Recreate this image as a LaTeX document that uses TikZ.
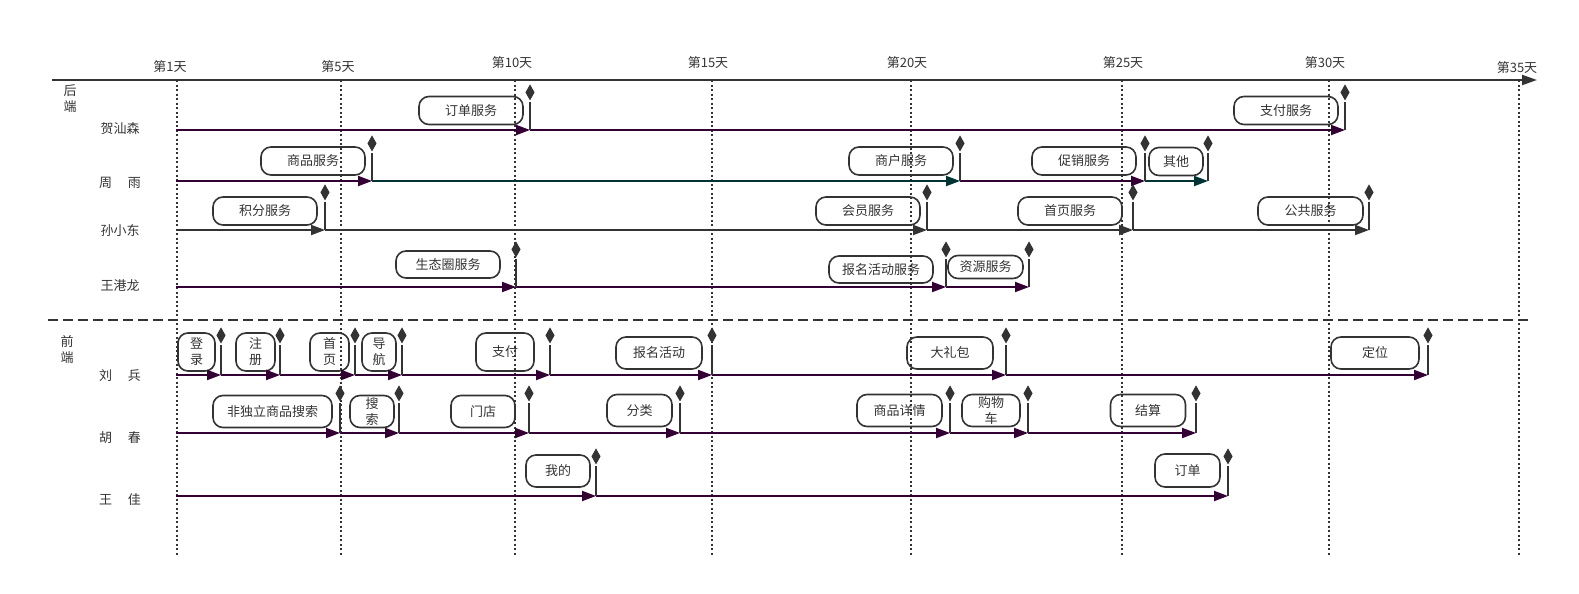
\documentclass[tikz,border=0pt]{standalone}
\usepackage{fontspec}
\setmainfont{Noto Sans CJK SC}
\usetikzlibrary{shapes,arrows.meta}
\definecolor{ink}{HTML}{333333}
\definecolor{plum}{HTML}{330033}
\definecolor{pine}{HTML}{003333}

\begin{document}
\begin{tikzpicture}[x=1pt,y=-1pt,>={Triangle[length=14pt,width=10pt]},line width=2pt,
  font=\fontsize{13pt}{16pt}\selectfont,text=ink]
\tikzstyle{task}=[draw=ink,line width=1.6pt,rounded corners=10pt,inner sep=0pt,align=center,minimum height=28pt]
\tikzstyle{gem}=[diamond,fill=ink,inner sep=0pt,minimum width=10pt,minimum height=17pt,anchor=south]
\tikzstyle{stem}=[draw=ink,line width=2.2pt]
\tikzstyle{day}=[draw=ink,line width=2pt,dash pattern=on 2pt off 2.5pt]
\tikzstyle{run}=[->,draw=plum]
\tikzstyle{tealrun}=[->,draw=pine]
\tikzstyle{grayrun}=[->,draw=ink]
\useasboundingbox (0,0) rectangle (1579,594);

% days
\foreach \n/\x/\lx/\ly in {1/177/170/67,5/341/338/67,10/515/512/63,15/712/708/63,
  20/911/907/63,25/1122/1123/63,30/1329/1325/63,35/1519/1517/68}{
  \coordinate (d\n) at (\x,80);
  \draw[day] (d\n) -- ++(0,475);
  \node (l\n) at (\lx,\ly) {第\n 天};
}
\coordinate (a0) at (52,80);
\coordinate (a1) at (1537,80);
\draw[->,ink,>={Triangle[length=15pt,width=10pt]}] (a0) -- (a1);
\coordinate (sep0) at (48,320);
\coordinate (sep1) at (1530,320);
\draw[ink,dash pattern=on 10pt off 5pt] (sep0) -- (sep1);

% people
\node[align=center] (back) at (70,98.5) {后\\端};
\node[align=center] (front) at (67,350) {前\\端};
\node (p1) at (120,129) {贺汕森};
\node (p2) at (120,183) {周\hspace{16pt}雨};
\node (p3) at (120,231) {孙小东};
\node (p4) at (120,285) {王港龙};
\node (p5) at (120,376) {刘\hspace{16pt}兵};
\node (p6) at (120,438) {胡\hspace{16pt}春};
\node (p7) at (120,500) {王\hspace{16pt}佳};

% back end tasks
\node[task,minimum width=104pt] (t1) at (471,110.5) {订单服务};
\node[task,minimum width=104pt] (t2) at (1286,110.5) {支付服务};
\node[task,minimum width=104pt] (t3) at (313,161) {商品服务};
\node[task,minimum width=104pt] (t4) at (901,161) {商户服务};
\node[task,minimum width=104pt] (t5) at (1084,161) {促销服务};
\node[task,minimum width=54pt] (t6) at (1176,161.5) {其他};
\node[task,minimum width=104pt] (t7) at (265,211) {积分服务};
\node[task,minimum width=104pt] (t8) at (868,211) {会员服务};
\node[task,minimum width=104pt] (t9) at (1070,211) {首页服务};
\node[task,minimum width=105pt] (t10) at (1310.5,211) {公共服务};
\node[task,minimum width=104pt,minimum height=27pt] (t11) at (448,264.5) {生态圈服务};
\node[task,minimum width=104pt,minimum height=27pt] (t12) at (881,269.5) {报名活动服务};
\node[task,minimum width=75pt,minimum height=23pt] (t13) at (985.5,267) {资源服务};

% front end tasks
\node[task,minimum width=37pt,minimum height=38pt] (f1) at (196.5,352) {登\\录};
\node[task,minimum width=39pt,minimum height=38pt] (f2) at (255.5,352) {注\\册};
\node[task,minimum width=39pt,minimum height=38pt] (f3) at (329.5,352) {首\\页};
\node[task,minimum width=34pt,minimum height=38pt] (f4) at (379,352) {导\\航};
\node[task,minimum width=58pt,minimum height=38pt] (f5) at (505,352) {支付};
\node[task,minimum width=86pt,minimum height=32pt] (f6) at (659,353) {报名活动};
\node[task,minimum width=86pt,minimum height=32pt] (f7) at (950,353) {大礼包};
\node[task,minimum width=88pt,minimum height=32pt] (f8) at (1375,353) {定位};
\node[task,minimum width=119pt,minimum height=32pt] (f9) at (272.5,411.5) {非独立商品搜索};
\node[task,minimum width=44pt,minimum height=32pt] (f10) at (372,411.5) {搜\\索};
\node[task,minimum width=64pt,minimum height=32pt] (f11) at (483,411.5) {门店};
\node[task,minimum width=65pt,minimum height=32pt] (f12) at (639.5,410.5) {分类};
\node[task,minimum width=85pt,minimum height=32pt] (f13) at (899.5,410.5) {商品详情};
\node[task,minimum width=58pt,minimum height=32pt] (f14) at (991,410.5) {购物\\车};
\node[task,minimum width=75pt,minimum height=32pt] (f15) at (1148,410.5) {结算};
\node[task,minimum width=64pt,minimum height=32pt] (f16) at (558,471) {我的};
\node[task,minimum width=65pt,minimum height=33pt] (f17) at (1187.5,470.5) {订单};

% milestones
\foreach \n/\x in {0/176,1/530,2/1345} \coordinate (he\n) at (\x,130);
\foreach \n/\x in {0/176,1/372,2/960,3/1145,4/1208} \coordinate (zh\n) at (\x,181);
\foreach \n/\x in {0/176,1/325,2/927,3/1133,4/1369} \coordinate (su\n) at (\x,230);
\foreach \n/\x in {0/176,1/516,2/946,3/1029} \coordinate (wg\n) at (\x,287);
\foreach \n/\x in {0/176,1/221,2/280,3/355,4/402,5/550,6/712,7/1006,8/1428} \coordinate (li\n) at (\x,375);
\foreach \n/\x in {0/176,1/340,2/399,3/529,4/680,5/950,6/1028,7/1196} \coordinate (hu\n) at (\x,433);
\foreach \n/\x in {0/176,1/596,2/1228} \coordinate (wj\n) at (\x,496);

\path (he0) edge[run] (he1)
      (he1) edge[run] (he2);
\path (zh0) edge[run] (zh1)
      (zh1) edge[tealrun] (zh2)
      (zh2) edge[run] (zh3)
      (zh3) edge[tealrun] (zh4);
\foreach \a/\b in {0/1,1/2,2/3,3/4} \path (su\a) edge[grayrun] (su\b);
\foreach \a/\b in {0/1,1/2,2/3} \path (wg\a) edge[run] (wg\b);
\foreach \a/\b in {0/1,1/2,2/3,3/4,4/5,5/6,6/7,7/8} \path (li\a) edge[run] (li\b);
\foreach \a/\b in {0/1,1/2,2/3,3/4,4/5,5/6,6/7} \path (hu\a) edge[run] (hu\b);
\foreach \a/\b in {0/1,1/2} \path (wj\a) edge[run] (wj\b);

\foreach \m in {he1,he2,zh1,zh2,zh3,zh4,su1,su2,su3,su4,wg1,wg2,wg3}
  \draw[stem] (\m) -- ++(0,-28) node[gem] (\m g) {};
\foreach \m in {li1,li2,li3,li4,li5,li6,li7,li8,hu1,hu2,hu3,hu4,hu5,hu6,hu7,wj1,wj2}
  \draw[stem] (\m) -- ++(0,-30) node[gem] (\m g) {};
\end{tikzpicture}
\end{document}
